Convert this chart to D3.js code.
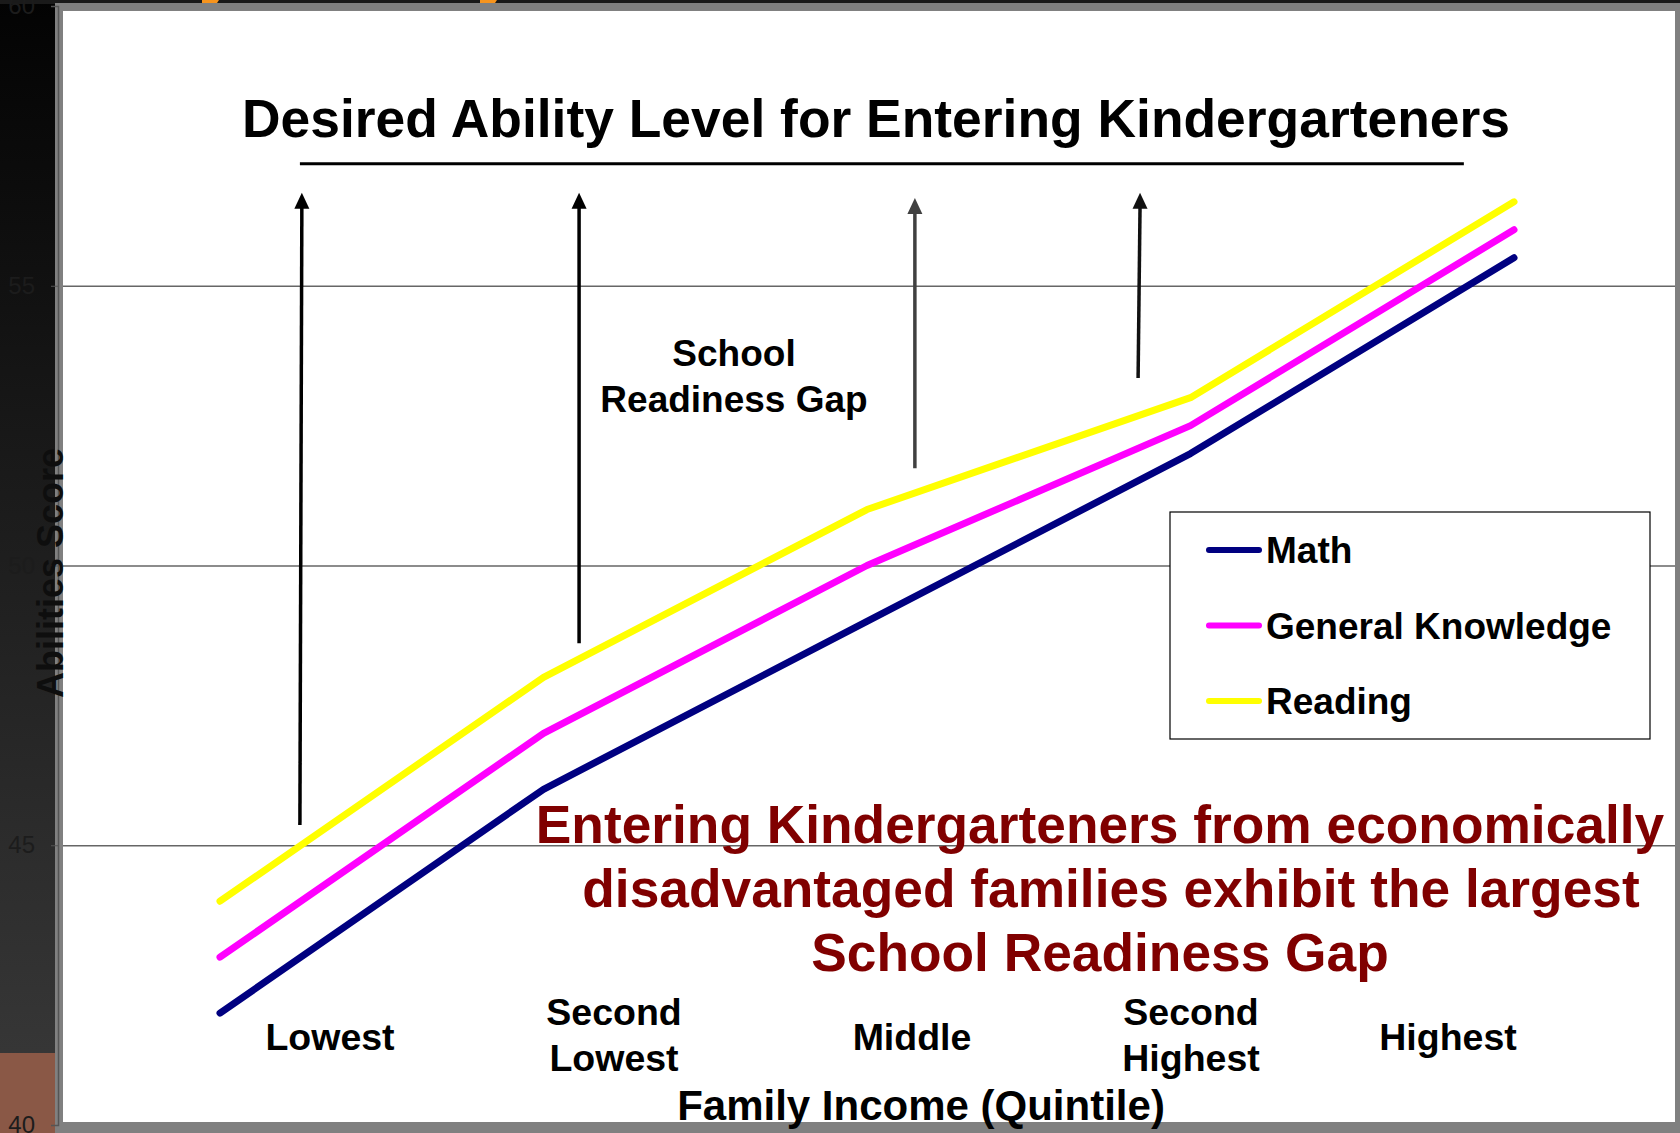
<!DOCTYPE html>
<html>
<head>
<meta charset="utf-8">
<script src="https://cdn.jsdelivr.net/npm/d3@7"></script>
<style>
  html, body { margin: 0; padding: 0; background: #000; }
  svg { display: block; }
  text { font-family: "Liberation Sans", Arial, Helvetica, sans-serif; font-weight: bold; }
</style>
</head>
<body>
<script>
// ---------- data ----------
const categories = ["Lowest", "Second Lowest", "Middle", "Second Highest", "Highest"];
const categoryLabelLines = [["Lowest"], ["Second", "Lowest"], ["Middle"], ["Second", "Highest"], ["Highest"]];
const mathScores = [42.0, 46.0, 49.0, 52.0, 55.5];
const generalKnowledgeScores = [43.0, 47.0, 50.0, 52.5, 56.0];
const readingScores = [44.0, 48.0, 51.0, 53.0, 56.5];
const seriesNames = ["Math", "General Knowledge", "Reading"];
const yTicks = [40, 45, 50, 55, 60];
const desiredLevel = 57.18;
// gap arrows: [category index at bottom, category index at top, score at bottom, score at top]
const gapArrows = [
  [0.247, 0.253, 45.36, 56.66],
  [1.110, 1.110, 48.61, 56.66],
  [2.148, 2.148, 51.74, 56.57],
  [2.838, 2.844, 53.35, 56.66]
];
const titleText = "Desired Ability Level for Entering Kindergarteners";
const gapLabel = ["School", "Readiness Gap"];
const messageLines = ["Entering Kindergarteners from economically", "disadvantaged families exhibit the largest", "School Readiness Gap"];
const xTitle = "Family Income (Quintile)";
const yTitle = "Abilities Score";

// ---------- layout ----------
const W = 1680, H = 1133;
const panel = { x0: 63, y0: 11, x1: 1675, y1: 1122 };
const colors = { Math: "#000080", "General Knowledge": "#FF00FF", Reading: "#FFFF00" };
const seriesValues = { Math: mathScores, "General Knowledge": generalKnowledgeScores, Reading: readingScores };

const svg = d3.select("body").append("svg").attr("width", W).attr("height", H);
const defs = svg.append("defs");
const bgGrad = defs.append("linearGradient").attr("id", "bg").attr("x1", 0).attr("y1", 0).attr("x2", 0).attr("y2", 1);
bgGrad.append("stop").attr("offset", "0%").attr("stop-color", "#030303");
bgGrad.append("stop").attr("offset", "100%").attr("stop-color", "#3a3a3a");

// background
svg.append("rect").attr("width", W).attr("height", H).attr("fill", "url(#bg)");
svg.append("rect").attr("x", 0).attr("y", 1053).attr("width", W).attr("height", H - 1053).attr("fill", "#8a5846");
svg.append("rect").attr("x", 0).attr("y", 0).attr("width", W).attr("height", 4).attr("fill", "#1a1a1a");
svg.append("path").attr("d", "M202,0 L219,0 L215,6 L202,6 Z").attr("fill", "#f7941d");
svg.append("path").attr("d", "M480,0 L497,0 L493,6 L480,6 Z").attr("fill", "#f7941d");

// panel
svg.append("rect").attr("x", 55).attr("y", 3).attr("width", W - 55).attr("height", H - 3).attr("fill", "#808080");
svg.append("rect").attr("x", panel.x0).attr("y", panel.y0).attr("width", panel.x1 - panel.x0).attr("height", panel.y1 - panel.y0).attr("fill", "#ffffff");

// scales
const x = d3.scalePoint().domain(categories).range([220, 1514]);
const xIdx = d3.scaleLinear().domain([0, categories.length - 1]).range([220, 1514]);
const xLabel = d3.scaleOrdinal().domain(categories).range([330, 614, 912, 1191, 1448]);
const y = d3.scaleLinear().domain([40, 60]).range([1125, 6]);

// gridlines
const gridG = svg.append("g").attr("transform", `translate(${panel.x0},0)`)
  .call(d3.axisLeft(y).tickValues(yTicks.filter(t => t > 40 && t < 60)).tickSize(-(panel.x1 - panel.x0)).tickFormat(""));
gridG.select(".domain").remove();
gridG.selectAll("line").attr("stroke", "#666").attr("stroke-width", 1.3);

// y axis ticks + labels
const axG = svg.append("g").attr("transform", `translate(58,0)`)
  .call(d3.axisLeft(y).tickValues(yTicks).tickSize(7).tickPadding(16));
axG.select(".domain").attr("stroke", "#555").attr("stroke-width", 1.5);
axG.selectAll("line").attr("stroke", "#555");
axG.selectAll("text").attr("fill", "#1c1c1c").style("font-weight", "normal").attr("font-size", 24);

// y title
svg.append("text").attr("transform", `translate(63,${573}) rotate(-90)`)
  .attr("text-anchor", "middle").attr("font-size", 36).attr("fill", "#0e0e0e").text(yTitle);

// lines
const line = d3.line().x((d, i) => x(categories[i])).y(d => y(d));
seriesNames.forEach(name => {
  svg.append("path").datum(seriesValues[name])
    .attr("d", line).attr("fill", "none").attr("stroke", colors[name])
    .attr("stroke-width", 7).attr("stroke-linecap", "round").attr("stroke-linejoin", "round");
});

// desired level line
svg.append("line").attr("x1", xIdx(0.247)).attr("x2", xIdx(3.845))
  .attr("y1", y(desiredLevel)).attr("y2", y(desiredLevel))
  .attr("stroke", "#000").attr("stroke-width", 3);

// arrows
const arrowColors = ["#000", "#000", "#404040", "#111"];
gapArrows.forEach((a, i) => {
  const xb = xIdx(a[0]), xt = xIdx(a[1]), yb = y(a[2]), yt = y(a[3]);
  const head = 16, hw = 7.5;
  svg.append("line").attr("x1", xb).attr("y1", yb).attr("x2", xt).attr("y2", yt + head - 2)
    .attr("stroke", arrowColors[i]).attr("stroke-width", 3.5);
  svg.append("path").attr("d", `M${xt},${yt} L${xt - hw},${yt + head} L${xt + hw},${yt + head} Z`)
    .attr("fill", arrowColors[i]);
});

// title
svg.append("text").attr("x", 876).attr("y", 137).attr("text-anchor", "middle")
  .attr("font-size", 53.4).attr("fill", "#000").text(titleText);

// gap label
svg.append("text").attr("text-anchor", "middle").attr("font-size", 37).attr("fill", "#000")
  .selectAll("tspan").data(gapLabel).join("tspan")
  .attr("x", 734).attr("y", (d, i) => 366 + i * 46).text(d => d);

// message
const msgX = [1100, 1111, 1100];
svg.append("text").attr("text-anchor", "middle").attr("font-size", 53.3).attr("fill", "#800000")
  .selectAll("tspan").data(messageLines).join("tspan")
  .attr("x", (d, i) => msgX[i]).attr("y", (d, i) => 843 + i * 64).text(d => d);

// category labels
categories.forEach((c, i) => {
  const lines = categoryLabelLines[i];
  const t = svg.append("text").attr("text-anchor", "middle").attr("font-size", 37.5).attr("fill", "#000");
  const startY = lines.length === 1 ? 1050 : 1025;
  t.selectAll("tspan").data(lines).join("tspan")
    .attr("x", xLabel(c)).attr("y", (d, j) => startY + j * 46).text(d => d);
});

// x title
svg.append("text").attr("x", 921).attr("y", 1120).attr("text-anchor", "middle")
  .attr("font-size", 42).attr("fill", "#000").text(xTitle);

// legend
const lg = svg.append("g");
lg.append("rect").attr("x", 1170).attr("y", 512).attr("width", 480).attr("height", 227)
  .attr("fill", "#fff").attr("stroke", "#000").attr("stroke-width", 1.2);
seriesNames.forEach((name, i) => {
  const cy = 550 + i * 75.5;
  lg.append("line").attr("x1", 1209).attr("x2", 1259).attr("y1", cy).attr("y2", cy)
    .attr("stroke", colors[name]).attr("stroke-width", 6).attr("stroke-linecap", "round");
  lg.append("text").attr("x", 1266).attr("y", cy + 13).attr("font-size", 37).attr("fill", "#000").text(name);
});
</script>
</body>
</html>
